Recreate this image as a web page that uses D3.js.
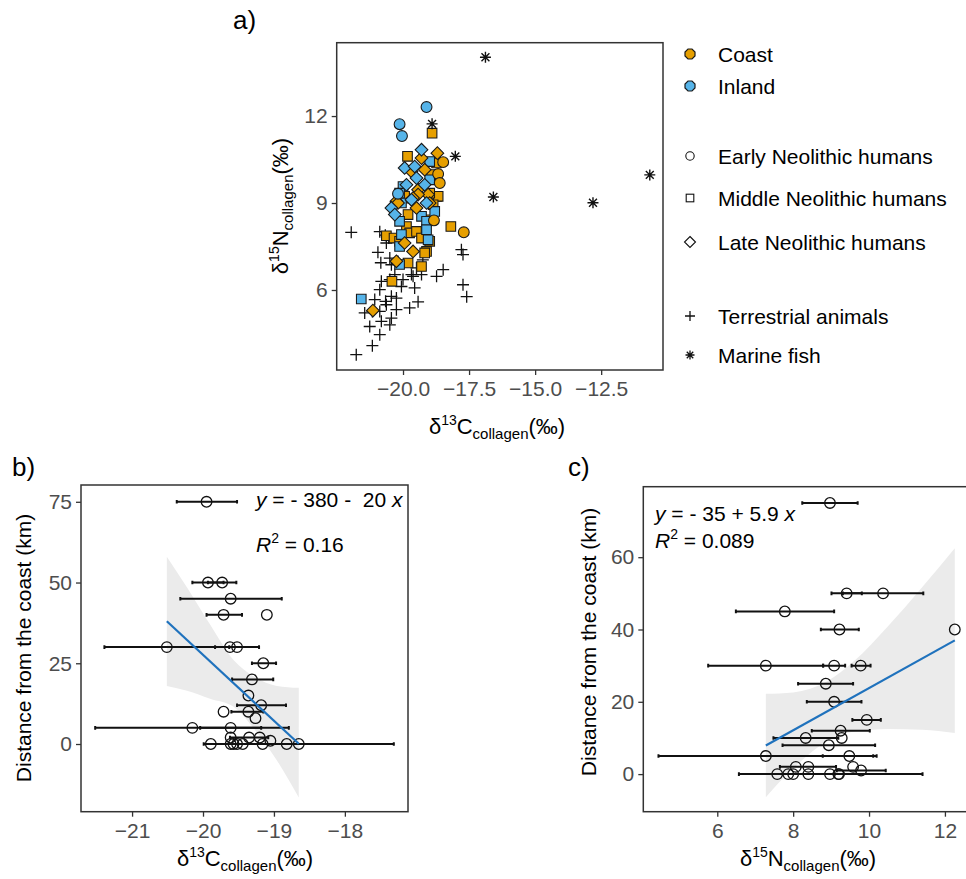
<!DOCTYPE html>
<html>
<head>
<meta charset="utf-8">
<script src="https://cdn.jsdelivr.net/npm/d3@7"></script>
<style>
  body { margin: 0; background: #fff; }
  svg text { font-family: "Liberation Sans", Arial, sans-serif; white-space: pre; }
</style>
</head>
<body>
<div id="chart"></div>
<script>
// ---- panel a data: [d13C, d15N]
const coastEN = [[-18.48,10.41],[-18.67,10.0],[-18.61,9.69],[-18.83,8.40],[-17.70,7.99]];
const coastMN = [[-18.90,11.41],[-19.83,10.61],[-18.73,10.38],[-18.92,9.98],[-18.73,9.23],[-19.94,9.17],
  [-19.94,9.23],[-18.67,9.23],[-18.86,8.94],[-19.81,8.60],[-18.99,8.42],[-19.87,8.19],[-19.75,7.97],
  [-18.19,8.19],[-19.49,8.02],[-20.63,7.87],[-20.34,7.79],[-19.30,7.79],[-20.13,7.68],[-18.99,7.68],
  [-19.11,7.33],[-19.18,7.28],[-19.81,6.93],[-19.30,6.81],[-20.42,6.30],[-18.99,9.34]];
const coastLN = [[-18.70,10.72],[-19.30,10.55],[-19.18,10.15],[-19.68,10.09],[-19.43,9.46],[-20.25,9.06],
  [-19.05,9.29],[-18.99,9.0],[-20.19,9.0],[-19.49,8.83],[-19.43,9.29],[-19.94,7.62],[-19.62,7.33],
  [-20.25,6.99],[-21.14,5.29],[-19.62,9.17]];
const inlandEN = [[-19.11,12.31],[-20.13,11.72],[-20.04,11.31],[-20.19,9.32]];
const inlandMN = [[-18.99,10.43],[-18.99,9.80],[-20.0,9.57],[-20.13,9.34],[-18.80,8.71],[-19.30,8.54],
  [-19.11,8.37],[-20.13,8.37],[-19.11,8.08],[-20.06,7.91],[-19.05,7.73],[-20.13,7.50],[-20.13,6.88],
  [-21.58,5.69],[-20.06,9.0]];
const inlandLN = [[-19.30,10.84],[-19.94,10.21],[-19.56,10.26],[-19.49,9.86],[-19.18,9.63],[-19.87,9.63],
  [-19.68,9.11],[-20.44,8.83],[-20.31,8.60],[-19.11,9.0]];
const terrestrial = [[-21.96,7.99],[-20.88,8.01],[-20.67,7.89],[-20.54,7.79],[-20.95,7.30],[-20.63,7.62],
  [-20.50,7.10],[-20.84,6.94],[-20.44,6.87],[-20.19,6.98],[-19.25,7.04],[-19.68,6.53],[-19.49,6.76],
  [-19.30,6.53],[-20.00,6.36],[-19.62,6.47],[-20.82,6.30],[-20.50,6.36],[-20.31,6.53],[-19.56,6.07],
  [-20.06,6.12],[-20.88,6.01],[-18.73,6.47],[-18.48,6.70],[-17.79,7.39],[-17.73,7.22],[-17.73,6.18],
  [-17.59,5.77],[-21.07,5.67],[-20.44,5.78],[-20.25,5.72],[-20.63,5.49],[-21.45,5.21],[-20.88,5.26],
  [-20.25,5.32],[-19.75,5.38],[-19.43,5.59],[-20.44,5.03],[-20.82,4.92],[-20.50,4.80],[-21.26,4.74],
  [-20.88,4.46],[-21.16,4.08],[-21.77,3.77],[-20.66,5.61],[-21.16,5.26]];
const marineFish = [[-16.88,14.03],[-18.90,11.73],[-18.02,10.61],[-16.58,9.21],[-12.81,9.01],[-10.66,9.97]];

// ---- panel b data: distance (km), mean d13C, error range
const bDist = [75, 50, 50, 45, 40, 40, 30, 30, 30, 25, 20, 15, 12, 10, 10, 8, 5, 5,
  2, 2, 2, 1, 0, 0, 0, 0, 0, 0, 0, 0];
const bC = [-19.95, -19.93, -19.73, -19.61, -19.71, -19.10, -20.51, -19.62, -19.52, -19.15, -19.31, -19.36,
  -19.18, -19.36, -19.71, -19.26, -20.15, -19.61, -19.61, -19.35, -19.20, -19.05,
  -19.89, -19.61, -19.57, -19.52, -19.44, -19.16, -18.82, -18.65];
const bLo = [-20.37, -20.15, -19.93, -20.32, -19.95, null, -21.39, null, -19.83, -19.31, -19.59, null,
  -19.52, -19.60, null, null, -21.52, -20.04, null, -19.62, null, null,
  null, null, null, null, null, null, null, -19.99];
const bHi = [-19.52, -19.71, -19.53, -18.89, -19.45, null, -19.63, null, -19.21, -18.97, -19.01, null,
  -18.83, -19.15, null, null, -18.79, -19.18, null, -19.08, null, null,
  null, null, null, null, null, null, null, -17.31];
const bFit = { intercept: -380.4, slope: -20.4, from: -20.51, to: -18.65 };
const bBandX = [-20.51, -20.225, -19.9, -19.57, -19.29, -18.96, -18.65];
const bBandLo = [18, 16.5, 14, 11.5, 5, -5, -16.6];
const bBandHi = [58, 48.5, 37, 26, 21, 18, 17.4];

// ---- panel c data: distance (km), mean d15N, error range
const cDist = [75, 50, 50, 45, 40, 40, 30, 30, 30, 25, 20, 15, 12, 10, 10, 8, 5, 5,
  2, 2, 2, 1, 0, 0, 0, 0, 0, 0, 0];
const cN = [8.97, 9.41, 10.37, 7.78, 9.22, 12.26, 7.28, 9.08, 9.78, 8.86, 9.08, 9.94, 9.25, 8.33, 9.28, 8.94,
  7.28, 9.48, 8.07, 8.40, 9.58, 9.79, 7.58, 7.87, 8.00, 8.40, 8.97, 9.19, 9.21];
const cLo = [8.24, 9.01, 9.31, 6.49, 8.73, null, 5.76, 8.79, 9.54, 8.13, 8.36, 9.56, 8.49, 7.48, null, 7.72,
  4.45, 8.78, null, 7.65, null, 9.15, null, null, null, null, 6.57, null, null];
const cHi = [9.70, 9.81, 11.43, 9.08, 9.73, null, 8.79, 9.37, 10.04, 9.58, 9.80, 10.31, 10.02, 9.19, null, 10.16,
  10.11, 10.20, null, 9.13, null, 10.44, null, null, null, null, 11.41, null, null];
const cFit = { intercept: -34.6, slope: 5.84, from: 7.28, to: 12.26 };
const cBandX = [7.28, 8.0, 8.9, 9.6, 10.5, 11.4, 12.26];
const cBandLo = [-6.4, 1.6, 9.1, 11.8, 12.5, 12.3, 11.4];
const cBandHi = [22.2, 22.6, 25.7, 31.2, 40.9, 51.7, 62.5];

const legendSites = ['Coast', 'Inland'];
const legendGroups = ['Early Neolithic humans', 'Middle Neolithic humans', 'Late Neolithic humans'];
const legendOther = ['Terrestrial animals', 'Marine fish'];

const orange = '#E69F00', blue = '#56B4E9';

const svg = d3.select('#chart').append('svg')
    .attr('width', 966)
    .attr('height', 879);

function styleAxis(g) {
  g.select('.domain').remove();
  g.selectAll('.tick line').attr('stroke', '#333').attr('stroke-width', 1.3);
  g.selectAll('.tick text').attr('fill', '#4d4d4d').attr('font-size', 21);
}

function clip(id, x0, y0, x1, y1) {
  svg.append('clipPath').attr('id', id).append('rect')
      .attr('x', x0).attr('y', y0).attr('width', x1 - x0).attr('height', y1 - y0);
}

function deltaTitle(x, y, iso, el, rotate) {
  const t = svg.append('text')
      .attr('text-anchor', 'middle')
      .attr('font-size', 22)
      .attr('transform', `translate(${x},${y})` + (rotate ? ' rotate(-90)' : ''));
  t.append('tspan').text('δ');
  t.append('tspan').attr('font-size', 14).attr('dy', -9).text(iso);
  t.append('tspan').attr('dy', 9).text(el);
  t.append('tspan').attr('font-size', 15).attr('dy', 5).text('collagen');
  t.append('tspan').attr('dy', -5).text('(‰)');
}

const plusPath = s => `M${-s},0L${s},0M0,${-s}L0,${s}`;
const starPath = s => {
  const d = s * 0.72;
  return `M${-s},0L${s},0M0,${-s}L0,${s}M${-d},${-d}L${d},${d}M${-d},${d}L${d},${-d}`;
};
const circleSym = d3.symbol().type(d3.symbolCircle).size(92)();
const squareSym = d3.symbol().type(d3.symbolSquare).size(92)();
const diamondSym = d3.symbol().type(d3.symbolSquare).size(80)();

// ================= panel a =================
const ax = d3.scaleLinear().domain([-22.51, -10.16]).range([336.7, 663]);
const ay = d3.scaleLinear().domain([3.24, 14.53]).range([370, 42.7]);
clip('clipA', 336.7, 42.7, 663, 370);

const gA = svg.append('g').attr('clip-path', 'url(#clipA)');

gA.selectAll('.terr').data(terrestrial).join('path')
    .attr('d', plusPath(6))
    .attr('transform', d => `translate(${ax(d[0])},${ay(d[1])})`)
    .attr('stroke', '#111').attr('stroke-width', 1.3).attr('fill', 'none');

const humanLayers = [
  [coastMN, orange, 'MN'], [inlandMN, blue, 'MN'], [coastLN, orange, 'LN'],
  [inlandLN, blue, 'LN'], [coastEN, orange, 'EN'], [inlandEN, blue, 'EN']
];
humanLayers.forEach(([rows, col, per]) => {
  gA.append('g').selectAll('path').data(rows).join('path')
      .attr('d', per === 'EN' ? circleSym : per === 'MN' ? squareSym : diamondSym)
      .attr('transform', d => `translate(${ax(d[0])},${ay(d[1])})` + (per === 'LN' ? ' rotate(45)' : ''))
      .attr('fill', col).attr('stroke', '#1a1a1a').attr('stroke-width', 1.1);
});

gA.selectAll('.fish').data(marineFish).join('path')
    .attr('d', starPath(5.5))
    .attr('transform', d => `translate(${ax(d[0])},${ay(d[1])})`)
    .attr('stroke', '#111').attr('stroke-width', 1.4).attr('fill', 'none');

svg.append('rect').attr('x', 336.7).attr('y', 42.7).attr('width', 663 - 336.7).attr('height', 370 - 42.7)
    .attr('fill', 'none').attr('stroke', '#333').attr('stroke-width', 1.5);

svg.append('g').attr('transform', 'translate(0,370)')
    .call(d3.axisBottom(ax).tickValues([-20, -17.5, -15, -12.5]).tickFormat(d3.format('.1f')).tickSize(5).tickPadding(6))
    .call(styleAxis);
svg.append('g').attr('transform', 'translate(336.7,0)')
    .call(d3.axisLeft(ay).tickValues([6, 9, 12]).tickFormat(d3.format('d')).tickSize(5).tickPadding(4))
    .call(styleAxis);

deltaTitle(497, 434, '13', 'C', false);
deltaTitle(288, 206, '15', 'N', true);

svg.append('text').attr('x', 233).attr('y', 29).attr('font-size', 26).text('a)');

// legend
const leg = svg.append('g').attr('font-size', 21);
const legRows = [
  { y: 54, label: legendSites[0], kind: 'site', col: orange },
  { y: 86, label: legendSites[1], kind: 'site', col: blue },
  { y: 156, label: legendGroups[0], kind: 'EN' },
  { y: 198, label: legendGroups[1], kind: 'MN' },
  { y: 242, label: legendGroups[2], kind: 'LN' },
  { y: 316, label: legendOther[0], kind: 'plus' },
  { y: 355, label: legendOther[1], kind: 'star' }
];
legRows.forEach(r => {
  const g = leg.append('g').attr('transform', `translate(690,${r.y})`);
  if (r.kind === 'site') {
    g.append('path').attr('d', 'M-2,-5L2,-5L5,-2L5,2L2,5L-2,5L-5,2L-5,-2Z')
        .attr('fill', r.col).attr('stroke', '#1a1a1a').attr('stroke-width', 1.2);
  } else if (r.kind === 'EN') {
    g.append('circle').attr('r', 4.2).attr('fill', 'none').attr('stroke', '#111').attr('stroke-width', 1.1);
  } else if (r.kind === 'MN') {
    g.append('rect').attr('x', -3.8).attr('y', -3.8).attr('width', 7.6).attr('height', 7.6)
        .attr('fill', 'none').attr('stroke', '#111').attr('stroke-width', 1.1);
  } else if (r.kind === 'LN') {
    g.append('path').attr('d', 'M0,-5.5L5.5,0L0,5.5L-5.5,0Z').attr('fill', 'none').attr('stroke', '#111').attr('stroke-width', 1.1);
  } else if (r.kind === 'plus') {
    g.append('path').attr('d', plusPath(5)).attr('stroke', '#111').attr('stroke-width', 1.3);
  } else {
    g.append('path').attr('d', starPath(4.5)).attr('stroke', '#111').attr('stroke-width', 1.3);
  }
  leg.append('text').attr('x', 718).attr('y', r.y + 7.5).text(r.label);
});

// ================= shared for b / c =================
function regressionPanel(opt) {
  const { x, y, xs, ys, lo, hi, fit, bandX, bandLo, bandHi, box, id } = opt;
  clip(id, box[0], box[1], box[2], box[3]);
  const g = svg.append('g').attr('clip-path', `url(#${id})`);

  const band = bandX.map((v, i) => ({ x: v, lo: bandLo[i], hi: bandHi[i] }));
  g.append('path').datum(band)
      .attr('d', d3.area().x(d => x(d.x)).y0(d => y(d.lo)).y1(d => y(d.hi)).curve(d3.curveMonotoneX))
      .attr('fill', '#ebebeb');

  const rows = xs.map((v, i) => ({ v, d: ys[i], lo: lo[i], hi: hi[i] })).filter(r => r.lo !== null);
  g.selectAll('.eb').data(rows).join('path')
      .attr('d', r => `M${x(r.lo)},${y(r.d)}L${x(r.hi)},${y(r.d)}` +
        `M${x(r.lo)},${y(r.d) - 1.8}L${x(r.lo)},${y(r.d) + 1.8}M${x(r.hi)},${y(r.d) - 1.8}L${x(r.hi)},${y(r.d) + 1.8}`)
      .attr('stroke', '#111').attr('stroke-width', 2).attr('fill', 'none');

  g.selectAll('.pt').data(xs.map((v, i) => [v, ys[i]])).join('circle')
      .attr('cx', d => x(d[0])).attr('cy', d => y(d[1])).attr('r', 5.3)
      .attr('fill', 'none').attr('stroke', '#111').attr('stroke-width', 1.3);

  g.append('line')
      .attr('x1', x(fit.from)).attr('y1', y(fit.intercept + fit.slope * fit.from))
      .attr('x2', x(fit.to)).attr('y2', y(fit.intercept + fit.slope * fit.to))
      .attr('stroke', '#1f72bd').attr('stroke-width', 2.2);

  svg.append('rect').attr('x', box[0]).attr('y', box[1])
      .attr('width', box[2] - box[0]).attr('height', box[3] - box[1])
      .attr('fill', 'none').attr('stroke', '#333').attr('stroke-width', 1.5);
}

function eqText(x0, y0, parts, r2, r2y) {
  const t = svg.append('text').attr('x', x0).attr('y', y0).attr('font-size', 21);
  t.append('tspan').attr('font-style', 'italic').text('y');
  t.append('tspan').text(parts);
  t.append('tspan').attr('font-style', 'italic').text('x');
  const r = svg.append('text').attr('x', x0).attr('y', r2y).attr('font-size', 21);
  r.append('tspan').attr('font-style', 'italic').text('R');
  r.append('tspan').attr('font-size', 14).attr('dy', -9).text('2');
  r.append('tspan').attr('dy', 9).text(' = ' + r2);
}

// ================= panel b =================
const bx = d3.scaleLinear().domain([-21.72, -17.11]).range([81, 408]);
const by = d3.scaleLinear().domain([-20.96, 80.2]).range([811.7, 485]);
regressionPanel({ x: bx, y: by, xs: bC, ys: bDist, lo: bLo, hi: bHi, fit: bFit,
  bandX: bBandX, bandLo: bBandLo, bandHi: bBandHi, box: [81, 485, 408, 811.7], id: 'clipB' });

svg.append('g').attr('transform', 'translate(0,811.7)')
    .call(d3.axisBottom(bx).tickValues([-21, -20, -19, -18]).tickFormat(d3.format('d')).tickSize(5).tickPadding(6))
    .call(styleAxis);
svg.append('g').attr('transform', 'translate(81,0)')
    .call(d3.axisLeft(by).tickValues([0, 25, 50, 75]).tickFormat(d3.format('d')).tickSize(5).tickPadding(4))
    .call(styleAxis);

eqText(256, 507, ' = - 380 -  20 ', '0.16', 552);
deltaTitle(245, 866, '13', 'C', false);
svg.append('text').attr('text-anchor', 'middle').attr('font-size', 21)
    .attr('transform', 'translate(31,648) rotate(-90)').text('Distance from the coast (km)');
svg.append('text').attr('x', 12).attr('y', 476).attr('font-size', 26).text('b)');

// ================= panel c =================
const cx = d3.scaleLinear().domain([4.05, 12.74]).range([643.3, 973]);
const cy = d3.scaleLinear().domain([-10.4, 79.5]).range([811.7, 486.7]);
regressionPanel({ x: cx, y: cy, xs: cN, ys: cDist, lo: cLo, hi: cHi, fit: cFit,
  bandX: cBandX, bandLo: cBandLo, bandHi: cBandHi, box: [643.3, 486.7, 973, 811.7], id: 'clipC' });

svg.append('g').attr('transform', 'translate(0,811.7)')
    .call(d3.axisBottom(cx).tickValues([6, 8, 10, 12]).tickFormat(d3.format('d')).tickSize(5).tickPadding(6))
    .call(styleAxis);
svg.append('g').attr('transform', 'translate(643.3,0)')
    .call(d3.axisLeft(cy).tickValues([0, 20, 40, 60]).tickFormat(d3.format('d')).tickSize(5).tickPadding(4))
    .call(styleAxis);

eqText(655, 521, ' = - 35 + 5.9 ', '0.089', 548);
deltaTitle(808, 866, '15', 'N', false);
svg.append('text').attr('text-anchor', 'middle').attr('font-size', 21)
    .attr('transform', 'translate(596,642) rotate(-90)').text('Distance from the coast (km)');
svg.append('text').attr('x', 568).attr('y', 476).attr('font-size', 26).text('c)');
</script>
</body>
</html>
